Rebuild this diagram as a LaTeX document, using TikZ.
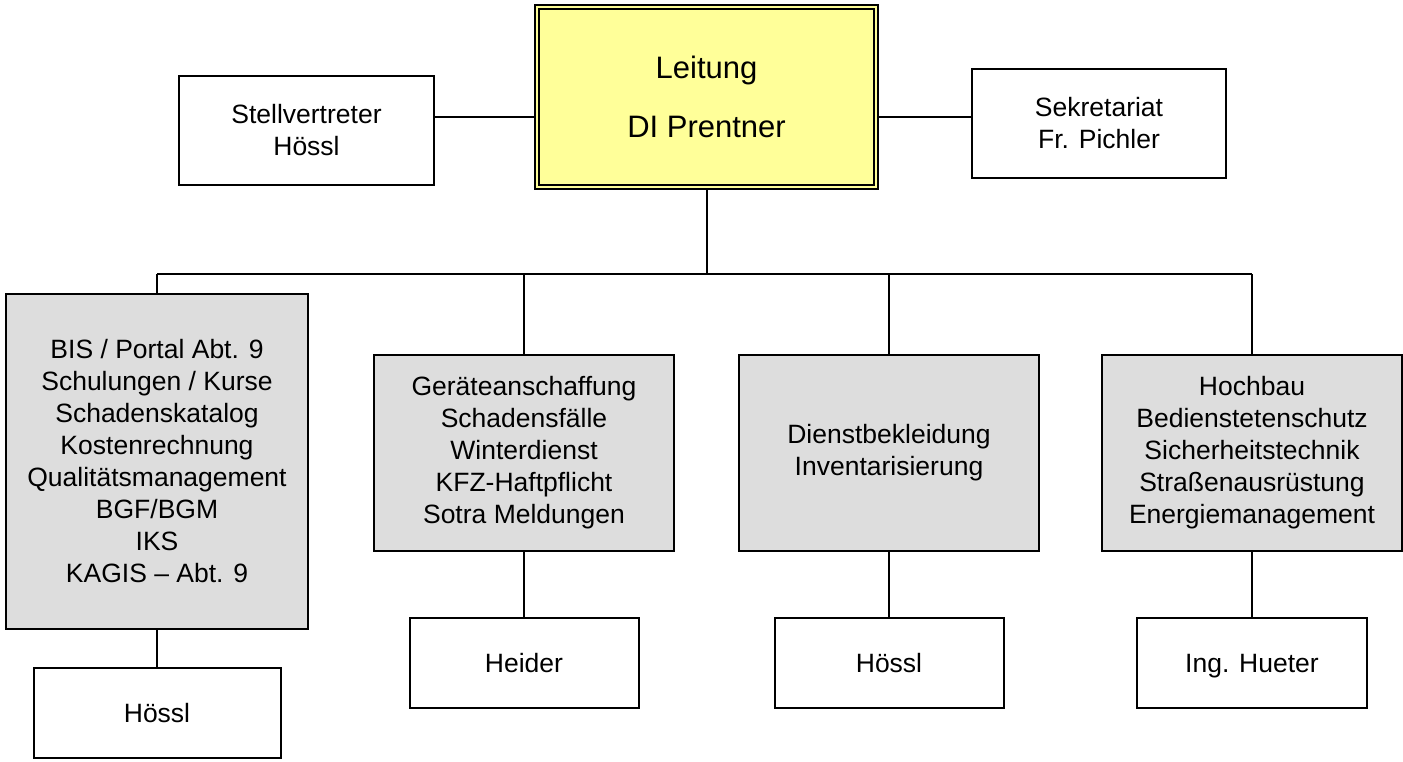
\documentclass[tikz,border=0pt]{standalone}
\usepackage{fontspec}
\setmainfont{Liberation Sans}
\usetikzlibrary{backgrounds}
\definecolor{leadyellow}{RGB}{255,255,153}
\definecolor{deptgray}{RGB}{221,221,221}

\begin{document}
\begin{tikzpicture}[x=1pt, y=-1pt, line width=2pt]
    \tikzstyle{every node}=[font=\fontsize{26.5}{32}\selectfont, align=center, inner sep=0pt, draw, fill=white]
    \tikzstyle{dept}=[fill=deptgray, minimum width=300pt, minimum height=196pt]
    \tikzstyle{person}=[minimum width=229pt, minimum height=90pt, text height=18.6pt, text depth=0pt]
    \tikzstyle{link}=[line width=2pt]
    \useasboundingbox (0,0) rectangle (1403,762);

    % top row
    \node[fill=leadyellow, double=leadyellow, double distance=2.5pt,
          minimum width=339pt, minimum height=180pt,
          font=\fontsize{31}{59}\selectfont] (lead) at (706.5,97) {Leitung\\DI Prentner};
    \node[minimum width=255pt, minimum height=109pt] (deputy) at (306.5,130.5) {Stellvertreter\\Hössl};
    \node[minimum width=254pt, minimum height=109pt] (secr) at (1099,123.5) {Sekretariat\\Fr. Pichler};

    % departments
    \node[dept, minimum width=302pt, minimum height=335pt] (dept1) at (157,461.5)
        {BIS / Portal Abt. 9\\Schulungen / Kurse\\Schadenskatalog\\Kostenrechnung\\Qualitätsmanagement\\BGF/BGM\\IKS\\KAGIS – Abt. 9};
    \node[dept] (dept2) at (524,453)
        {Geräteanschaffung\\Schadensfälle\\Winterdienst\\KFZ-Haftpflicht\\Sotra Meldungen};
    \node[dept] (dept3) at (889,453) {Dienstbekleidung\\Inventarisierung};
    \node[dept] (dept4) at (1252,453)
        {Hochbau\\Bedienstetenschutz\\Sicherheitstechnik\\Straßenausrüstung\\Energiemanagement};

    % people
    \node[person, minimum width=247pt] (head1) at (157,713) {Hössl};
    \node[person] (head2) at (524,663) {Heider};
    \node[person] (head3) at (889,663) {Hössl};
    \node[person, minimum width=230pt] (head4) at (1252,663) {Ing. Hueter};

    \coordinate (bus) at (0,274);
    \coordinate (side) at (0,117);

    \begin{scope}[on background layer]
        \draw[link] (deputy.east |- side) -- (lead.west |- side);
        \draw[link] (lead.east |- side) -- (secr.west |- side);
        \draw[link] (lead.south) -- (lead.south |- bus);
        \draw[link] (dept1.north |- bus) -- (dept4.north |- bus);
        \foreach \d in {1,2,3,4} {
            \draw[link] (dept\d.north |- bus) -- (dept\d.north);
            \draw[link] (dept\d) -- (head\d);
        }
    \end{scope}
\end{tikzpicture}
\end{document}
